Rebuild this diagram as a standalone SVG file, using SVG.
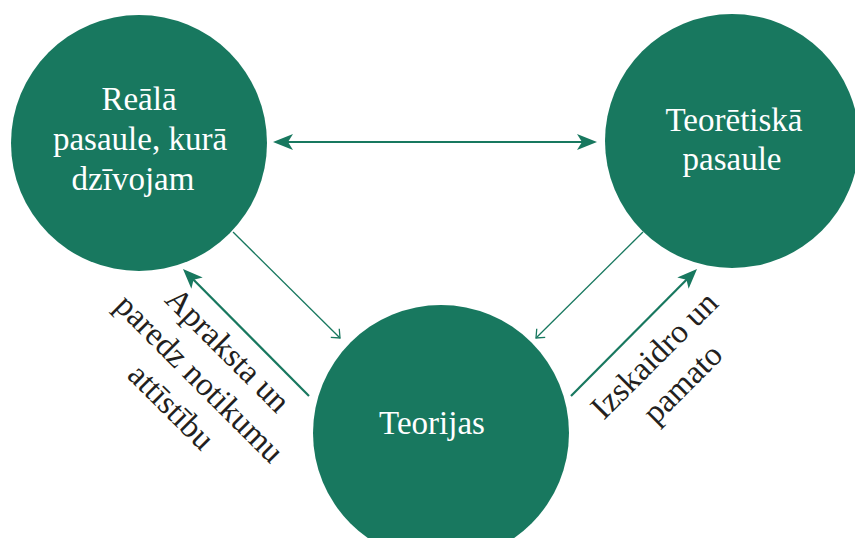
<svg xmlns="http://www.w3.org/2000/svg" width="855" height="538" viewBox="0 0 855 538">
  <style>
    .node { fill: #18785f; }
    .label { font-family: "Liberation Serif", "DejaVu Serif", serif; font-size: 33px; fill: #ffffff; text-anchor: middle; }
    .note { font-family: "Liberation Serif", "DejaVu Serif", serif; font-size: 33px; fill: #231f20; text-anchor: middle; }
    .thick { stroke: #18785f; stroke-width: 2.2; fill: none; }
    .thin { stroke: #18785f; stroke-width: 1.3; fill: none; }
  </style>
  <defs>
    <marker id="head" markerUnits="userSpaceOnUse" markerWidth="20" markerHeight="16" refX="12" refY="8" orient="auto-start-reverse">
      <path d="M0,0 L20,8 L0,16 L5,8 Z" fill="#18785f"/>
    </marker>
    <marker id="vee" markerUnits="userSpaceOnUse" markerWidth="10" markerHeight="14" refX="8" refY="7" orient="auto">
      <path d="M1,1 L8,7 L1,13" fill="none" stroke="#18785f" stroke-width="1.3"/>
    </marker>
  </defs>

  <g id="connectors">
    <line class="thick" x1="281" y1="142" x2="589" y2="142" marker-start="url(#head)" marker-end="url(#head)"/>
    <line class="thin" x1="233" y1="232" x2="340" y2="338" marker-end="url(#vee)"/>
    <line class="thin" x1="643" y1="232" x2="536" y2="338" marker-end="url(#vee)"/>
    <line class="thick" x1="309" y1="396" x2="188.6" y2="274.7" marker-end="url(#head)"/>
    <line class="thick" x1="571" y1="396" x2="691.4" y2="274.7" marker-end="url(#head)"/>
  </g>

  <g id="real-world">
    <circle class="node" cx="139" cy="143" r="128"/>
    <text class="label" x="139" y="110">Reālā</text>
    <text class="label" x="140" y="150">pasaule, kurā</text>
    <text class="label" x="133" y="190">dzīvojam</text>
  </g>

  <g id="theoretical-world">
    <circle class="node" cx="732" cy="141" r="127"/>
    <text class="label" x="734" y="131">Teorētiskā</text>
    <text class="label" x="732" y="170">pasaule</text>
  </g>

  <g id="theories">
    <circle class="node" cx="441" cy="433" r="128"/>
    <text class="label" x="432" y="434">Teorijas</text>
  </g>

  <g id="describe-label" transform="translate(192,386) rotate(45)">
    <text class="note" x="0" y="-40">Apraksta un</text>
    <text class="note" x="0" y="0">paredz notikumu</text>
    <text class="note" x="0" y="40">attīstību</text>
  </g>

  <g id="explain-label" transform="translate(676,377) rotate(-45)">
    <text class="note" x="0" y="-20">Izskaidro un</text>
    <text class="note" x="0" y="20">pamato</text>
  </g>
</svg>
